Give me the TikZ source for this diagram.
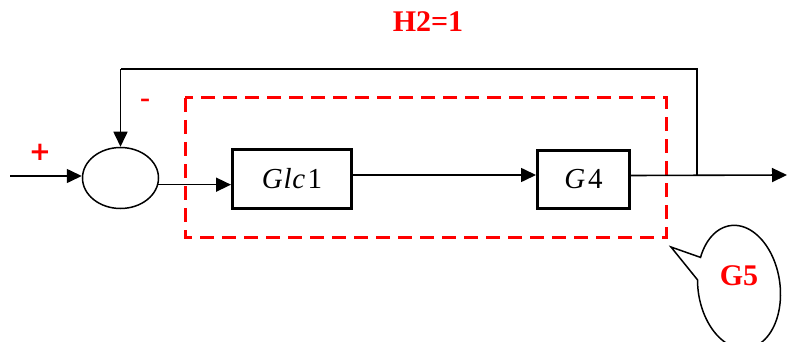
\documentclass[tikz,border=0pt]{standalone}
\usepackage{fontspec}
\setmainfont{Liberation Serif}
\newfontfamily\plusfont{DejaVu Sans}
\usetikzlibrary{arrows.meta,shapes.geometric}
\definecolor{lred}{RGB}{255,0,0}
\tikzset{
  blk/.style={draw, line width=3pt, fill=white, inner sep=0pt, font=\fontsize{29}{29}\selectfont},
  sumnode/.style={draw, ellipse, line width=1.5pt, inner sep=0pt, minimum width=76pt, minimum height=61pt},
  conn/.style={line width=1.6pt, -{Triangle[length=15pt,width=14pt]}},
  plain/.style={line width=1.6pt},
  lbl/.style={text=lred, font=\fontsize{30}{30}\selectfont\bfseries, inner sep=0pt},
  group/.style={draw=lred, line width=3pt, dash pattern=on 14pt off 8pt},
  callout/.style={draw, line width=1.5pt, fill=white}
}
\begin{document}
\begin{tikzpicture}[x=1pt,y=-1pt]
\useasboundingbox (0,0) rectangle (787,342);
% group box
\draw[group] (185,98) rectangle (666,237);
% blocks
\node[sumnode] (sum) at (120.5,178) {};
\node[blk, minimum width=119pt, minimum height=59pt] (g1) at (292,179) {\textit{G}\kern1pt\textit{l}\kern0.5pt\textit{c}\kern2.5pt1};
\node[blk, minimum width=92pt, minimum height=58pt] (g4) at (583.5,179.5) {\textit{G}\kern3pt4};
% coordinates
\coordinate (in) at (10,176);
\coordinate (out) at (787,175);
\coordinate (j) at (697,175);
\coordinate (tr) at (697,69);
\coordinate (tl) at (120.5,69);
% connectors
\draw[conn] (in) -- (in -| sum.west);
\draw[conn] (sum.-10) -- (sum.-10 -| g1.west);
\draw[conn] ([yshift=4pt]g1.east) -- ([yshift=4pt]g1.east -| g4.west);
\draw[conn] ([yshift=4pt]g4.east) -- (out);
\draw[plain] (j) -- (tr) -- (tl);
\draw[conn] (tl) -- (sum.north);
% labels
\node[lbl, font=\fontsize{26}{26}\selectfont\plusfont\bfseries] (plus) at (40,152) {+};
\node[lbl] (minus) at (145,103) {-};
\node[lbl] (h2) at (428,22) {H2=1};
% callout
\coordinate (tip) at (671,247);
\begin{scope}[shift={(739,287)}, rotate=8]
\draw[callout] (tip) -- plot[domain=214:552, samples=90] ({41*cos(\x)},{62*sin(\x)}) -- cycle;
\end{scope}
\node[lbl] (g5) at (739,276) {G5};
\end{tikzpicture}
\end{document}
